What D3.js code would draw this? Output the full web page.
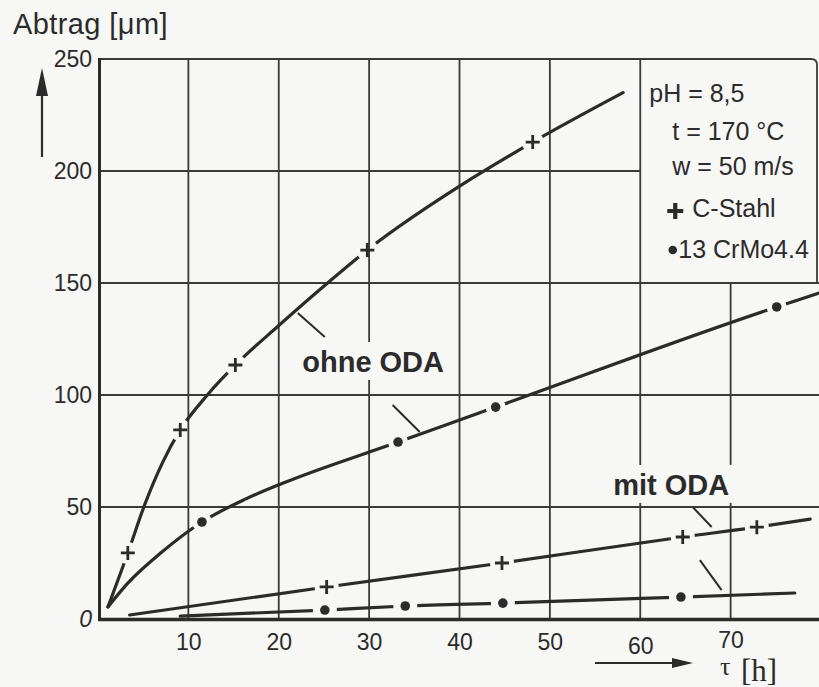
<!DOCTYPE html>
<html>
<head>
<meta charset="utf-8">
<script src="https://cdn.jsdelivr.net/npm/d3@7"></script>
<style>
  html, body { margin: 0; padding: 0; background: #f7f7f5; }
  svg { display: block; }
  text { font-family: "Liberation Sans", Arial, Helvetica, sans-serif; fill: #2b2b2b; }
  text.serif { font-family: "Liberation Serif", "DejaVu Serif", serif; }
</style>
</head>
<body>
<svg id="chart" width="819" height="687"></svg>
<script>
// Axis ticks
const xTicks = [10, 20, 30, 40, 50, 60, 70];
const yTicks = [0, 50, 100, 150, 200, 250];

// Material removal [µm] over time [h]; traces follow each curve, marks are the measured points
const stahlOhneTrace = [[1.1, 5.4], [3.3, 29.5], [5.2, 51.4], [7.1, 69.5], [9.1, 84.4], [12.1, 100], [15.2, 113.4], [20, 131], [25.4, 150], [29.8, 164.7], [41.5, 197], [48.1, 212.9], [58.1, 235]];
const stahlOhneMarks = [[3.3, 29.5], [9.1, 84.4], [15.2, 113.4], [29.8, 164.7], [48.1, 212.9]];

const crmoOhneTrace = [[1.1, 5.4], [3.3, 16], [7.1, 30], [11.5, 43.3], [16.3, 53.5], [20.5, 60.7], [33.2, 79], [44, 94.6], [75.1, 139.3], [79.8, 145.5]];
const crmoOhneMarks = [[11.5, 43.3], [33.2, 79], [44, 94.6], [75.1, 139.3]];

const stahlMitTrace = [[3.5, 1.8], [25.3, 14.3], [44.7, 25], [64.7, 36.6], [72.9, 41], [78.8, 44.6]];
const stahlMitMarks = [[25.3, 14.3], [44.7, 25], [64.7, 36.6], [72.9, 41]];

const crmoMitTrace = [[9.1, 1.3], [25.1, 4], [34, 5.8], [44.8, 7.1], [64.5, 9.8], [77.1, 11.6]];
const crmoMitMarks = [[25.1, 4], [34, 5.8], [44.8, 7.1], [64.5, 9.8]];

// Legend texts
const conditions = ["pH = 8,5", "t = 170 °C", "w = 50 m/s"];
const materials = ["C-Stahl", "13 CrMo4.4"];

const INK = "#2b2b2b";
const BG = "#f7f7f5";

const svg = d3.select("#chart");
svg.append("rect").attr("width", 819).attr("height", 687).attr("fill", BG);

const x = d3.scaleLinear().domain([0, 80]).range([98, 821]);
const y = d3.scaleLinear().domain([0, 250]).range([619, 59]);

// ---- grid ----
const grid = svg.append("g").attr("stroke", "#3a3a3a").attr("stroke-width", 1.8).attr("fill", "none");
grid.selectAll("line.v").data(xTicks).join("line")
  .attr("x1", d => x(d)).attr("x2", d => x(d))
  .attr("y1", d => d > 60 ? y(150) : y(250)).attr("y2", y(0));
grid.selectAll("line.h").data(yTicks.filter(d => d > 0 && d < 250)).join("line")
  .attr("x1", x(0)).attr("x2", d => d === 200 ? x(60) : 819)
  .attr("y1", d => y(d)).attr("y2", d => y(d));
// top frame with the rounded legend corner
grid.append("path")
  .attr("d", `M${x(0)},${y(250)} H811 Q817,${y(250)} 817,${y(250) + 6} V${y(150)}`);

// ---- axes ----
svg.append("line").attr("x1", 99.5).attr("x2", 99.5).attr("y1", y(250) - 1).attr("y2", y(0) + 2)
  .attr("stroke", INK).attr("stroke-width", 3);
svg.append("line").attr("x1", 98).attr("x2", 819).attr("y1", y(0) + 0.5).attr("y2", y(0) + 0.5)
  .attr("stroke", INK).attr("stroke-width", 3.5);

const yAxis = svg.append("g").attr("transform", "translate(98,0)")
  .call(d3.axisLeft(y).tickValues(yTicks).tickSize(0).tickPadding(6));
yAxis.select(".domain").remove();
yAxis.selectAll("text").attr("font-size", 23).attr("fill", INK)
  .style("font-style", d => d === 0 ? "italic" : "normal");

const xAxis = svg.append("g").attr("transform", `translate(0,${y(0)})`)
  .call(d3.axisBottom(x).tickValues(xTicks).tickSize(0).tickPadding(15));
xAxis.select(".domain").remove();
xAxis.selectAll("text").attr("font-size", 23).attr("fill", INK)
  .attr("y", d => d === 60 ? 19 : (d === 70 ? 13 : 15));

// ---- axis titles and arrows ----
const title = svg.append("text").attr("x", 13).attr("y", 34).attr("font-size", 29).attr("letter-spacing", 0.4);
title.append("tspan").text("Abtrag ");
title.append("tspan").text("[μm]");

svg.append("line").attr("x1", 42).attr("x2", 42).attr("y1", 157).attr("y2", 92)
  .attr("stroke", INK).attr("stroke-width", 2.2);
svg.append("path").attr("d", "M42,68 L36,96 L48,96 Z").attr("fill", INK);

svg.append("line").attr("x1", 595).attr("x2", 676).attr("y1", 663).attr("y2", 663)
  .attr("stroke", INK).attr("stroke-width", 2.2);
svg.append("path").attr("d", "M693,663 L672,658 L672,668 Z").attr("fill", INK);

svg.append("text").attr("class", "serif").attr("x", 720).attr("y", 675).attr("font-size", 26).text("τ");
svg.append("text").attr("class", "serif").attr("x", 741).attr("y", 681).attr("font-size", 31).text("[h]");

// ---- curves with gaps around the measured points ----
const line = d3.line().x(d => x(d[0])).y(d => y(d[1])).curve(d3.curveMonotoneX);
const series = [
  { trace: stahlOhneTrace, marks: stahlOhneMarks, kind: "plus", gap: 11 },
  { trace: crmoOhneTrace, marks: crmoOhneMarks, kind: "dot", gap: 10 },
  { trace: stahlMitTrace, marks: stahlMitMarks, kind: "plus", gap: 12 },
  { trace: crmoMitTrace, marks: crmoMitMarks, kind: "dot", gap: 12 }
];

const mask = svg.append("defs").append("mask").attr("id", "gaps")
  .attr("maskUnits", "userSpaceOnUse").attr("x", 0).attr("y", 0).attr("width", 819).attr("height", 687);
mask.append("rect").attr("width", 819).attr("height", 687).attr("fill", "white");
series.forEach(s => {
  mask.selectAll(null).data(s.marks).join("circle")
    .attr("cx", d => x(d[0])).attr("cy", d => y(d[1])).attr("r", s.gap).attr("fill", "black");
});

const curves = svg.append("g").attr("mask", "url(#gaps)");
curves.selectAll("path").data(series).join("path")
  .attr("d", d => line(d.trace))
  .attr("fill", "none").attr("stroke", INK).attr("stroke-width", 3.2).attr("stroke-linecap", "round");

series.forEach(s => {
  const g = svg.append("g");
  if (s.kind === "plus") {
    g.selectAll("path").data(s.marks).join("path")
      .attr("d", d => `M${x(d[0]) - 7},${y(d[1])} h14 M${x(d[0])},${y(d[1]) - 7} v14`)
      .attr("stroke", INK).attr("stroke-width", 2.8).attr("fill", "none");
  } else {
    g.selectAll("circle").data(s.marks).join("circle")
      .attr("cx", d => x(d[0])).attr("cy", d => y(d[1])).attr("r", 4.8).attr("fill", INK);
  }
});

// ---- curve labels with leader lines ----
function label(t, v, text) {
  const g = svg.append("g");
  const bg = g.append("rect").attr("fill", BG);
  const tx = g.append("text").attr("x", x(t)).attr("y", y(v))
    .attr("font-size", 29).attr("font-weight", "bold").attr("fill", "#363636").text(text);
  const b = tx.node().getBBox();
  bg.attr("x", b.x - 6).attr("y", b.y - 4).attr("width", b.width + 12).attr("height", b.height + 6);
}
label(22.6, 110.3, "ohne ODA");
label(57, 55.4, "mit ODA");

const leaders = [
  [[22.1, 136.6], [25.1, 125.9]],
  [[32.6, 95.5], [35.6, 83.5]],
  [[65.8, 50], [67.9, 41.1]],
  [[66.6, 26.3], [69, 12.9]]
];
svg.append("g").selectAll("line").data(leaders).join("line")
  .attr("x1", d => x(d[0][0])).attr("y1", d => y(d[0][1]))
  .attr("x2", d => x(d[1][0])).attr("y2", d => y(d[1][1]))
  .attr("stroke", INK).attr("stroke-width", 2);

// ---- legend box (upper right cell) ----
const lx = x(60);
const leg = svg.append("g").attr("font-size", 25);
const condPos = [[9, 102], [32, 140], [32, 175]];
leg.selectAll("text.cond").data(conditions).join("text")
  .attr("x", (d, i) => lx + condPos[i][0]).attr("y", (d, i) => condPos[i][1]).text(d => d);

leg.append("path").attr("d", `M${lx + 27},211 h16 M${lx + 35},203 v16`)
  .attr("stroke", INK).attr("stroke-width", 4.2);
leg.append("text").attr("x", lx + 52).attr("y", 217).text(materials[0]);
leg.append("circle").attr("cx", lx + 32.5).attr("cy", 250).attr("r", 4.3).attr("fill", INK);
leg.append("text").attr("x", lx + 38).attr("y", 258).text(materials[1]);
</script>
</body>
</html>
